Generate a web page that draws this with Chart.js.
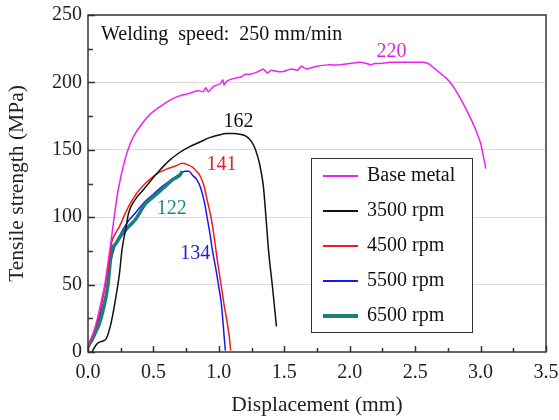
<!DOCTYPE html>
<html>
<head>
<meta charset="utf-8">
<script src="https://cdn.jsdelivr.net/npm/chart.js@4/dist/chart.umd.min.js"></script>
<style>
  html, body { margin: 0; padding: 0; background: #fff; }
  #wrap { width: 559px; height: 420px; }
</style>
</head>
<body>
<div id="wrap"><canvas id="tensileChart" width="559" height="420"></canvas></div>
<script>
// Axis ticks
const xTicks = [0, 0.5, 1.0, 1.5, 2.0, 2.5, 3.0, 3.5];
const yTicks = [0, 50, 100, 150, 200, 250];

// Series (displacement mm, tensile strength MPa)
const seriesLabels = ['Base metal', '3500 rpm', '4500 rpm', '5500 rpm', '6500 rpm'];

const baseX = [0, 0.01, 0.04, 0.07, 0.10, 0.13, 0.17, 0.20, 0.23, 0.28, 0.32, 0.36, 0.41, 0.47, 0.55, 0.63, 0.70, 0.78, 0.84, 0.88, 0.90, 0.92, 0.96, 1.01, 1.03, 1.04, 1.06, 1.12, 1.17, 1.20, 1.24, 1.30, 1.34, 1.37, 1.40, 1.45, 1.49, 1.55, 1.60, 1.63, 1.67, 1.75, 1.83, 1.92, 2.00, 2.08, 2.13, 2.16, 2.19, 2.23, 2.31, 2.40, 2.50, 2.56, 2.60, 2.64, 2.69, 2.74, 2.79, 2.84, 2.89, 2.94, 2.97, 3.00, 3.02, 3.04];
const baseY = [3, 7, 14, 24, 37, 51, 78, 100, 120, 142, 154, 162, 169, 176, 182, 187, 190, 192, 194, 193, 196, 193, 197, 199, 202, 198, 201, 203, 204, 206, 206, 208, 210, 207, 209, 208, 208, 210, 209, 212, 210, 212, 213, 213, 214, 215, 214, 213, 214, 214, 215, 215, 215, 215, 214, 211, 207, 203, 197, 189, 180, 170, 163, 155, 146, 136];

const r3500X = [0.03, 0.06, 0.08, 0.11, 0.14, 0.17, 0.19, 0.21, 0.24, 0.26, 0.29, 0.31, 0.36, 0.42, 0.47, 0.55, 0.62, 0.70, 0.77, 0.86, 0.93, 1.00, 1.06, 1.11, 1.16, 1.21, 1.25, 1.28, 1.31, 1.34, 1.36, 1.38, 1.41, 1.44];
const r3500Y = [0, 5, 7, 8, 10, 19, 28, 39, 58, 76, 92, 103, 113, 120, 126, 135, 142, 148, 152, 156, 159, 161, 162, 162, 161.5, 160, 156, 150, 140, 123, 100, 75, 48, 19];

const r4500X = [0, 0.02, 0.05, 0.08, 0.11, 0.13, 0.16, 0.18, 0.21, 0.24, 0.29, 0.34, 0.39, 0.46, 0.54, 0.61, 0.67, 0.72, 0.76, 0.80, 0.83, 0.86, 0.89, 0.91, 0.94, 0.96, 0.99, 1.02, 1.04, 1.06, 1.08, 1.09];
const r4500Y = [3, 8, 16, 26, 38, 48, 66, 81, 88, 93, 104, 113, 120, 127, 133, 136, 138, 140, 139, 137, 134, 130, 122, 113, 100, 88, 67, 48, 35, 24, 11, 1];

const r5500X = [0, 0.02, 0.05, 0.08, 0.11, 0.14, 0.17, 0.20, 0.24, 0.30, 0.36, 0.44, 0.50, 0.57, 0.64, 0.70, 0.74, 0.77, 0.80, 0.83, 0.86, 0.89, 0.91, 0.93, 0.95, 0.98, 1.00, 1.02, 1.03, 1.04, 1.05];
const r5500Y = [3, 7, 14, 24, 33, 44, 65, 77, 86, 96, 103, 112, 117, 123, 128, 132, 134, 134, 131, 128, 122, 111, 100, 89, 76, 60, 48, 35, 24, 12, 1];

const r6500X = [0, 0.03, 0.06, 0.09, 0.12, 0.15, 0.18, 0.21, 0.25, 0.30, 0.36, 0.44, 0.51, 0.58, 0.65, 0.70, 0.72];
const r6500Y = [4, 9, 15, 22, 33, 48, 75, 80, 86, 92, 98, 110, 116, 122, 128, 131, 134];

// Peak labels
const peakText = ['220', '162', '141', '134', '122'];
const peakX = [2.32, 1.15, 1.02, 0.82, 0.64];
const peakY = [223, 171, 139, 73, 106];
const peakColor = ['#e41fe4', '#111111', '#e52222', '#2222cc', '#1d8a80'];

const noteText = 'Welding  speed:  250 mm/min';

const toPoints = (xs, ys) => xs.map((x, i) => ({ x: x, y: ys[i] }));

const FONT = '"Liberation Serif", "Times New Roman", serif';
Chart.defaults.font.family = FONT;
Chart.defaults.color = '#222';

// Frame with inward ticks, like the original plot
const framePlugin = {
    id: 'frame',
    afterDatasetsDraw(chart) {
        const { ctx, chartArea: a, scales } = chart;
        ctx.save();
        ctx.strokeStyle = '#333';
        ctx.lineWidth = 1.5;
        ctx.beginPath();
        // x ticks (major + minor)
        for (let v = 0; v <= 3.5001; v += 0.25) {
            const px = Math.round(scales.x.getPixelForValue(v)) + 0.5;
            const len = Math.abs(v * 2 - Math.round(v * 2)) < 1e-6 ? 6 : 4;
            ctx.moveTo(px, a.bottom);
            ctx.lineTo(px, a.bottom - len);
        }
        // y ticks
        for (let v = 0; v <= 250; v += 25) {
            const py = Math.round(scales.y.getPixelForValue(v)) + 0.5;
            const len = v % 50 === 0 ? 7 : 5;
            ctx.moveTo(a.left, py);
            ctx.lineTo(a.left + len, py);
        }
        ctx.stroke();
        ctx.strokeRect(a.left, a.top, a.right - a.left, a.bottom - a.top);
        ctx.restore();
    }
};

// Annotations and the boxed legend inside the plot
const notesPlugin = {
    id: 'notes',
    afterDraw(chart) {
        const { ctx, chartArea: a, scales } = chart;
        ctx.save();
        ctx.font = '20px ' + FONT;
        ctx.textBaseline = 'middle';

        ctx.fillStyle = '#111';
        ctx.textAlign = 'left';
        ctx.fillText(noteText, a.left + 13, a.top + 20);

        ctx.textAlign = 'center';
        peakText.forEach((t, i) => {
            ctx.fillStyle = peakColor[i];
            ctx.fillText(t, scales.x.getPixelForValue(peakX[i]), scales.y.getPixelForValue(peakY[i]));
        });

        // legend box
        const bx = 311, by = 158, bw = 161, bh = 174;
        ctx.fillStyle = '#fff';
        ctx.fillRect(bx, by, bw, bh);
        ctx.strokeStyle = '#333';
        ctx.lineWidth = 1;
        ctx.strokeRect(bx + 0.5, by + 0.5, bw, bh);
        ctx.textAlign = 'left';
        chart.data.datasets.forEach((ds, i) => {
            const cy = by + 18 + i * 35;
            ctx.strokeStyle = ds.borderColor;
            ctx.lineWidth = ds.borderWidth + 0.5;
            ctx.beginPath();
            ctx.moveTo(bx + 12, cy);
            ctx.lineTo(bx + 47, cy);
            ctx.stroke();
            ctx.fillStyle = '#111';
            ctx.fillText(ds.label, bx + 56, cy);
        });
        ctx.restore();
    }
};

const ctx = document.getElementById('tensileChart').getContext('2d');
new Chart(ctx, {
    type: 'line',
    data: {
        datasets: [
            { label: seriesLabels[0], data: toPoints(baseX, baseY), borderColor: '#ee22ee', borderWidth: 1.5, tension: 0.15, order: 0 },
            { label: seriesLabels[1], data: toPoints(r3500X, r3500Y), borderColor: '#111111', borderWidth: 1.5, cubicInterpolationMode: 'monotone', order: 1 },
            { label: seriesLabels[2], data: toPoints(r4500X, r4500Y), borderColor: '#ee1c1c', borderWidth: 1.5, cubicInterpolationMode: 'monotone', order: 2 },
            { label: seriesLabels[3], data: toPoints(r5500X, r5500Y), borderColor: '#1a1ae6', borderWidth: 1.5, cubicInterpolationMode: 'monotone', order: 4 },
            { label: seriesLabels[4], data: toPoints(r6500X, r6500Y), borderColor: '#1b7f7a', borderWidth: 3.5, cubicInterpolationMode: 'monotone', order: 3 }
        ]
    },
    options: {
        responsive: false,
        animation: false,
        devicePixelRatio: 1,
        elements: { point: { radius: 0 } },
        layout: { padding: { left: 0, top: 15, right: 13, bottom: 0 } },
        plugins: {
            legend: { display: false },
            tooltip: { enabled: false }
        },
        scales: {
            x: {
                type: 'linear',
                min: 0,
                max: 3.5,
                afterBuildTicks: (s) => { s.ticks = xTicks.map(v => ({ value: v })); },
                afterFit: (s) => { s.height = 68; s.paddingLeft = 0; s.paddingRight = 0; },
                grid: { display: false, drawTicks: false },
                border: { display: false },
                ticks: { padding: 9, font: { size: 20 }, color: '#222', callback: (v) => Number(v).toFixed(1) },
                title: { display: true, text: 'Displacement (mm)', font: { size: 21.5 }, color: '#222', padding: { top: 0, bottom: 2 } }
            },
            y: {
                min: 0,
                max: 250,
                afterBuildTicks: (s) => { s.ticks = yTicks.map(v => ({ value: v })); },
                afterFit: (s) => { s.width = 88; s.paddingTop = 0; s.paddingBottom = 0; },
                grid: {
                    drawTicks: false,
                    color: (c) => (c.tick && (c.tick.value === 0 || c.tick.value === 250)) ? 'rgba(0,0,0,0)' : '#dcdcdc',
                    lineWidth: 1
                },
                border: { display: false },
                ticks: { padding: 6, font: { size: 20 }, color: '#222' },
                title: { display: true, text: 'Tensile strength (MPa)', font: { size: 21.5 }, color: '#222', padding: { top: 4, bottom: 0 } }
            }
        }
    },
    plugins: [framePlugin, notesPlugin]
});
</script>
</body>
</html>
